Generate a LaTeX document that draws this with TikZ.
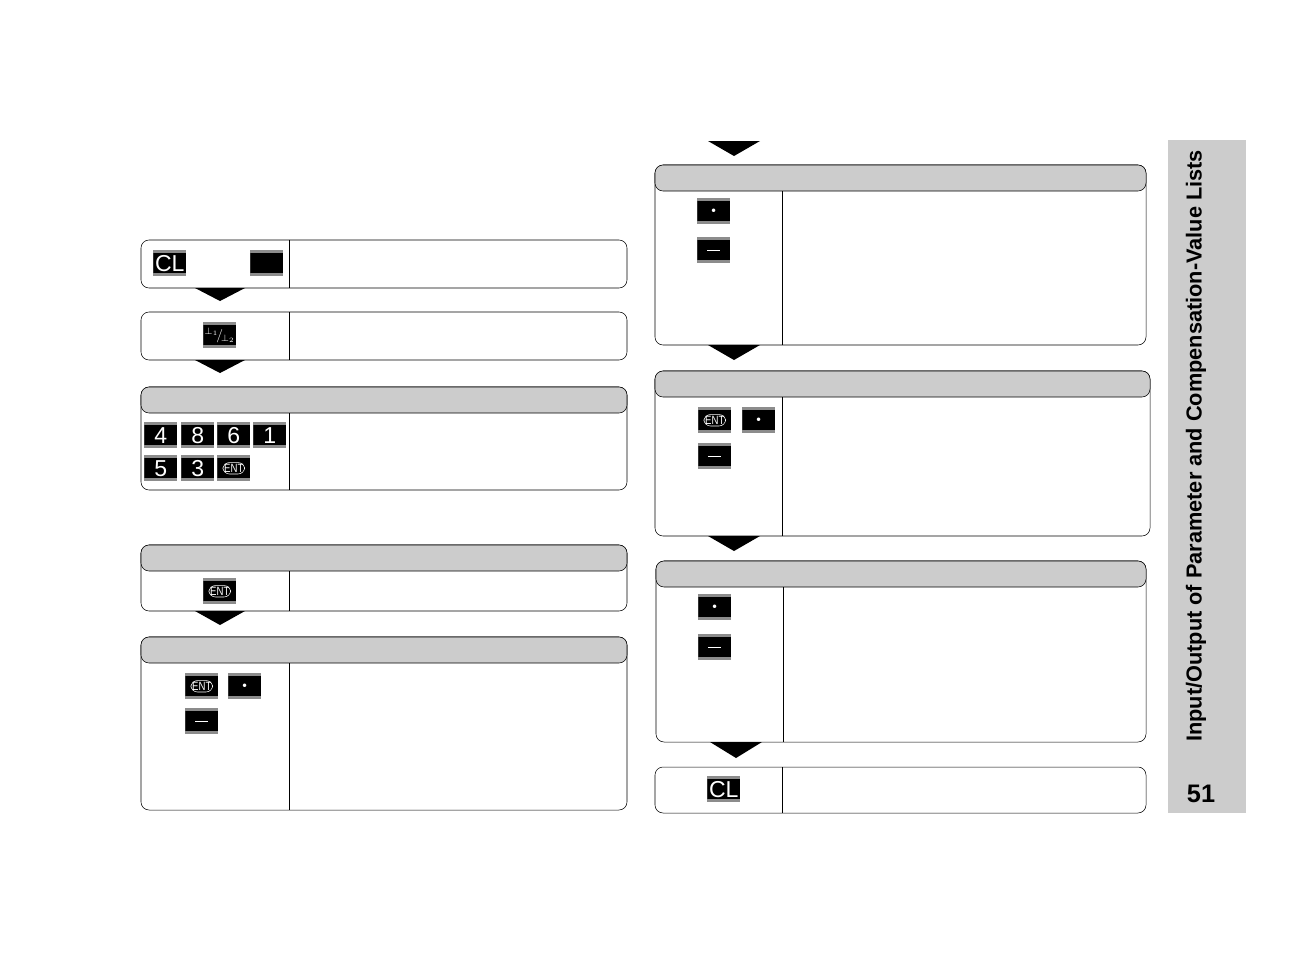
\documentclass[tikz,border=0pt]{standalone}
\usepackage{fontspec}
\setsansfont{Liberation Sans}
\newfontfamily\sidefont{Liberation Sans}
\tikzset{
  panel/.style={draw, thin, rounded corners=6pt},
  head/.style={draw, thin, fill=black!20, rounded corners=6pt},
  key/.style={fill=black!45, minimum width=24.75pt, minimum height=19.5pt, inner sep=0pt,
    text=white, font=\sffamily\LARGE,
    path picture={\fill[black] ([yshift=-2.4pt]path picture bounding box.north west) rectangle ([yshift=2.4pt]path picture bounding box.south east);}},
  entmark/.style={draw=white, text=white, rounded corners=5pt, inner xsep=1.2pt, inner ysep=1.2pt, font=\sffamily\small, xscale=0.8},
  tri/.style={fill=black}
}
\begin{document}
\begin{tikzpicture}[x=0.75pt, y=-0.75pt]
  \useasboundingbox (0,0) rectangle (1294,954);

  % left column
  \draw[panel] (141,240) rectangle (627,288);
  \draw (289,240) -- (289,288);
  \node[key, anchor=north west] (cl1) at (153,250) {CL};
  \node[key, anchor=north west] (blank1) at (250,250) {};
  \fill[tri] (195,288) -- (245,288) -- (220,301) -- cycle;

  \draw[panel] (141,312) rectangle (627,360);
  \draw (289,312) -- (289,360);
  \node[key, anchor=north west, font=\normalsize] (sel) at (203,322) {$^{\bot_1}\!/\!_{\bot_2}$};
  \fill[tri] (195,360) -- (245,360) -- (220,373) -- cycle;

  \draw[panel] (141,387) rectangle (627,490);
  \draw[head] (141,387) rectangle (627,413);
  \draw (289,413) -- (289,490);
  \node[key, anchor=north west] (n4) at (144,422) {4};
  \node[key, anchor=north west] (n8) at (181,422) {8};
  \node[key, anchor=north west] (n6) at (217,422) {6};
  \node[key, anchor=north west] (n1) at (253,422) {1};
  \node[key, anchor=north west] (n5) at (144,455) {5};
  \node[key, anchor=north west] (n3) at (181,455) {3};
  \node[key, anchor=north west] (ent1) at (217,455) {};
  \node[entmark] at (ent1) {ENT};

  \draw[panel] (141,545) rectangle (627,611);
  \draw[head] (141,545) rectangle (627,571);
  \draw (289,571) -- (289,611);
  \node[key, anchor=north west] (ent2) at (203,578) {};
  \node[entmark] at (ent2) {ENT};
  \fill[tri] (195,611) -- (245,611) -- (220,625) -- cycle;

  \draw[panel] (141,637) rectangle (627,810);
  \draw[head] (141,637) rectangle (627,663);
  \draw (289,663) -- (289,810);
  \node[key, anchor=north west] (ent3) at (185,673) {};
  \node[entmark] at (ent3) {ENT};
  \node[key, anchor=north west, font=\small] (dot3) at (228,673) {\textbullet};
  \node[key, anchor=north west] (min3) at (185,708) {\rule{10pt}{1pt}};

  % right column
  \fill[tri] (708,141) -- (760,141) -- (734,156) -- cycle;

  \draw[panel] (655,165) rectangle (1146,345);
  \draw[head] (655,165) rectangle (1146,191);
  \draw (782,191) -- (782,345);
  \node[key, anchor=north west, font=\small] (dotr1) at (697,198) {\textbullet};
  \node[key, anchor=north west] (minr1) at (697,237) {\rule{10pt}{1pt}};
  \fill[tri] (708,345) -- (760,345) -- (734,360) -- cycle;

  \draw[panel] (655,371) rectangle (1150,536);
  \draw[head] (655,371) rectangle (1150,397);
  \draw (782,397) -- (782,536);
  \node[key, anchor=north west] (entr2) at (698,407) {};
  \node[entmark] at (entr2) {ENT};
  \node[key, anchor=north west, font=\small] (dotr2) at (742,407) {\textbullet};
  \node[key, anchor=north west] (minr2) at (698,443) {\rule{10pt}{1pt}};
  \fill[tri] (708,536) -- (760,536) -- (734,551) -- cycle;

  \draw[panel] (656,561) rectangle (1146,742);
  \draw[head] (656,561) rectangle (1146,587);
  \draw (783,587) -- (783,742);
  \node[key, anchor=north west, font=\small] (dotr3) at (698,594) {\textbullet};
  \node[key, anchor=north west] (minr3) at (698,634) {\rule{10pt}{1pt}};
  \fill[tri] (710,742) -- (762,742) -- (736,758) -- cycle;

  \draw[panel] (655,767) rectangle (1146,813);
  \draw (782,767) -- (782,813);
  \node[key, anchor=north west] (clr4) at (707,776) {CL};

  % side tab
  \fill[black!20] (1168,140) rectangle (1246,813);
  \node[rotate=90, anchor=west, inner sep=0pt, font=\sidefont\bfseries\fontsize{16.3}{19}\selectfont] (tab) at (1196,742) {Input/Output of Parameter and Compensation-Value Lists};
  \node[font=\sidefont\bfseries\fontsize{19}{22}\selectfont] (page) at (1201,794) {51};
\end{tikzpicture}
\end{document}
